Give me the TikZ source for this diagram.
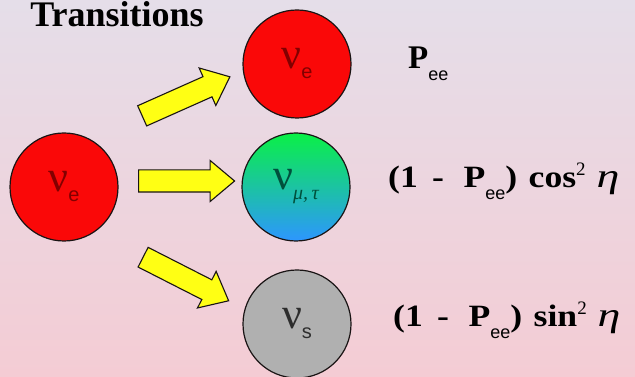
\documentclass[tikz,border=0pt]{standalone}
\usepackage{fontspec}
\setmainfont{Liberation Serif}
\newfontfamily\arialf{Liberation Sans}
\usetikzlibrary{shapes.arrows}
\definecolor{bgtop}{RGB}{229,222,233}
\definecolor{bgbot}{RGB}{244,204,212}
\definecolor{ballred}{RGB}{250,8,8}
\definecolor{ballgreen}{RGB}{10,240,70}
\definecolor{ballblue}{RGB}{45,150,255}
\definecolor{ballgray}{RGB}{176,176,176}
\definecolor{nured}{RGB}{130,0,0}
\definecolor{nugreen}{RGB}{0,80,60}
\definecolor{nugray}{RGB}{45,45,45}
\definecolor{arrowyellow}{RGB}{255,255,20}
\definecolor{outline}{RGB}{25,20,20}
\newcommand{\nulbl}[2]{\fontsize{44}{44}\selectfont ν\raisebox{-10pt}{#1\fontsize{20}{20}\selectfont #2}}
\newcommand{\peesub}{\raisebox{-12pt}{\arialf\fontsize{18}{18}\selectfont ee}}
\newcommand{\formula}[1]{\scalebox{1.15}[1]{\bfseries(1\hspace{0.4em}-\hspace{0.55em}P}\peesub\scalebox{1.15}[1]{\bfseries)\hspace{0.32em}#1}\raisebox{12pt}{\fontsize{19}{19}\selectfont 2}\hspace{0.35em}\scalebox{1.35}[1]{\fontsize{34}{34}\selectfont\itshape η}}
\begin{document}
\begin{tikzpicture}[x=1pt,y=1pt,
  ball/.style={circle, draw=outline, line width=1.2pt, minimum size=108pt, inner sep=0pt},
  yarrow/.style={single arrow, draw=outline, fill=arrowyellow, line width=1.1pt,
    single arrow head extend=9.5pt, single arrow tip angle=80,
    inner ysep=10.5pt, inner xsep=0pt, minimum height=96pt, minimum width=0pt},
  lbl/.style={inner sep=0pt, anchor=base west, font=\fontsize{31}{36}\selectfont}
]
\useasboundingbox (0,0) rectangle (635,377);
\shade[top color=bgtop, bottom color=bgbot] (0,0) rectangle (635,377);

\node[lbl, anchor=base, font=\bfseries\fontsize{36}{40}\selectfont] (title) at (117,350) {Transitions};

\node[ball, fill=ballred, text=nured] (src) at (64,190) {\nulbl{\arialf}{e}};
\node[ball, fill=ballred, text=nured] (te) at (297,313) {\nulbl{\arialf}{e}};
\node[ball, top color=ballgreen, bottom color=ballblue, text=nugreen] (tmt) at (296,190) {\nulbl{\itshape}{μ,\,τ}};
\node[ball, fill=ballgray, text=nugray] (ts) at (297,53) {\nulbl{\arialf}{s}};

\node[yarrow, rotate=24] (a1) at (180,278) {};
\node[yarrow] (a2) at (180,196) {};
\node[yarrow, rotate=-27] (a3) at (180,101) {};

\node[lbl, font=\fontsize{33}{36}\selectfont] (p1) at (408,308) {\textbf{P}\peesub};
\node[lbl] (p2) at (388,189) {\formula{cos}};
\node[lbl] (p3) at (393,50) {\formula{sin}};
\end{tikzpicture}
\end{document}
